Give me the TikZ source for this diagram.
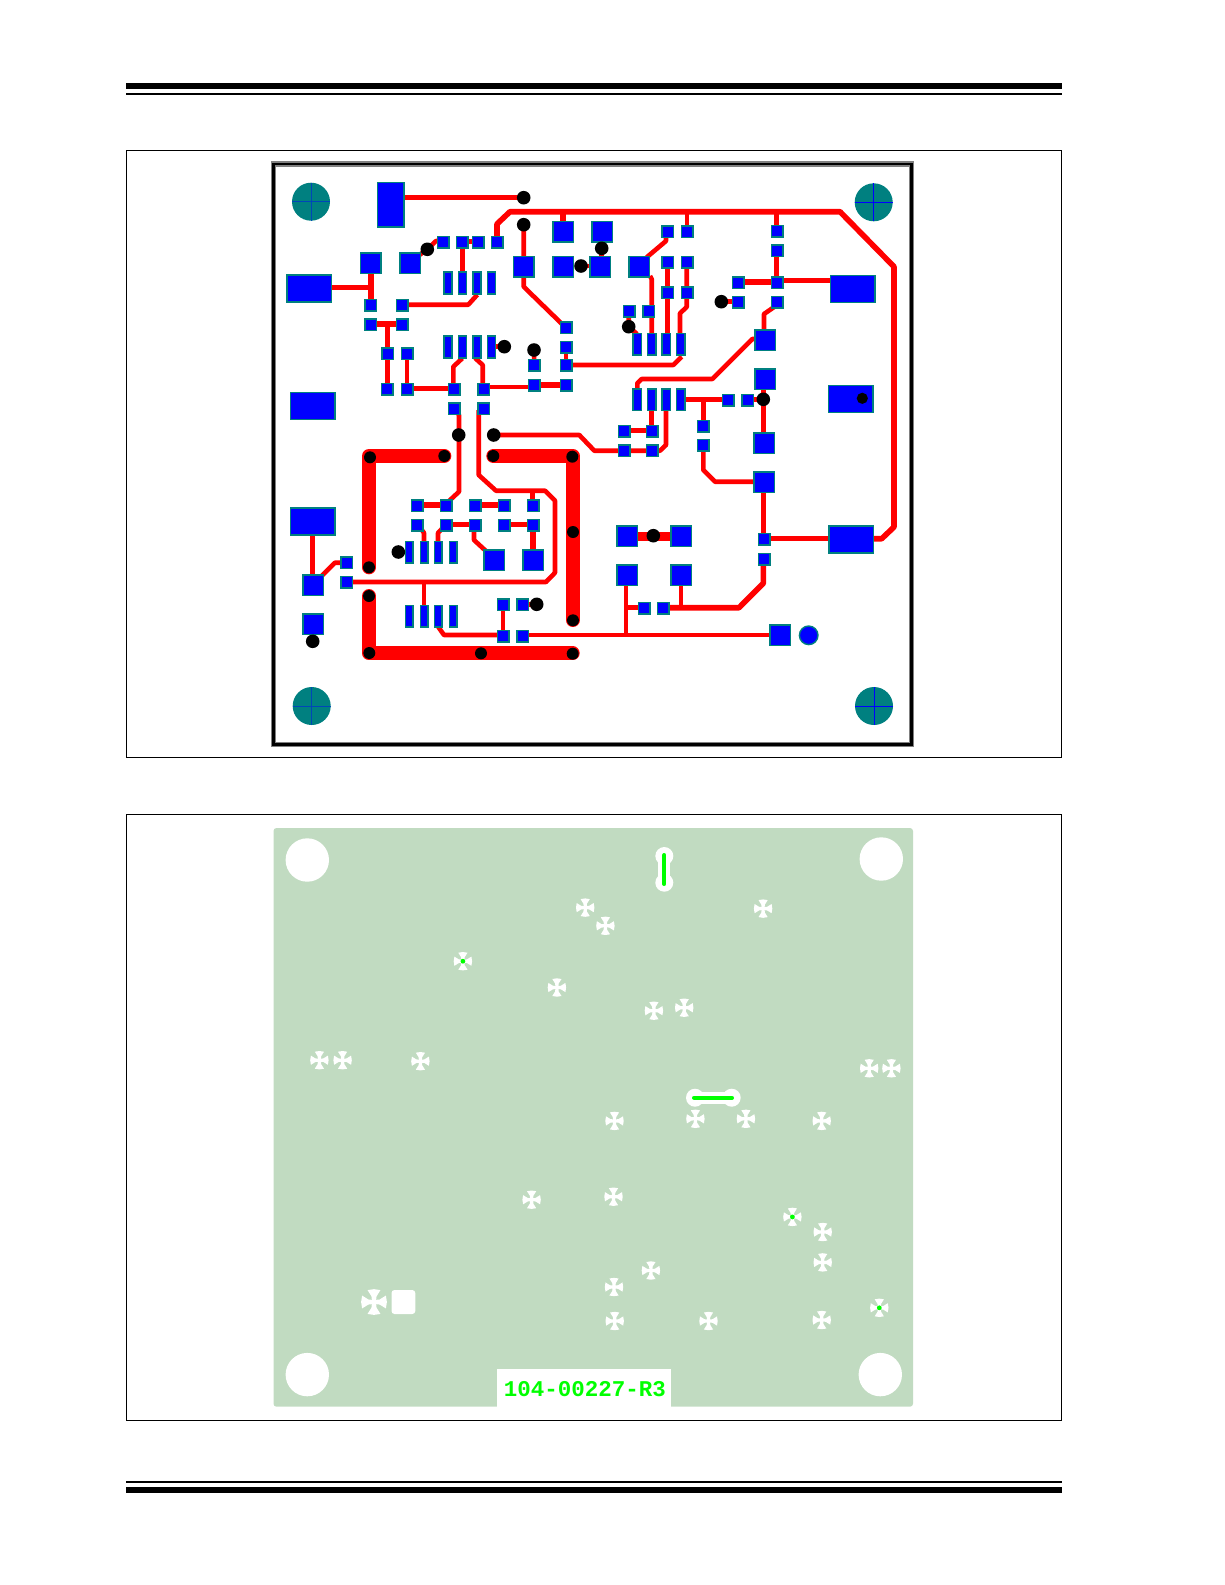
\documentclass[tikz,border=0pt]{standalone}
\usepackage{fontspec}
\newfontfamily\silkfont{Liberation Mono}
\definecolor{padteal}{rgb}{0,0.5,0.5}
\definecolor{boardgreen}{rgb}{0.755,0.86,0.755}
\tikzset{
  trace/.style={red,line width=2.3pt,line join=round},
  widetrace/.style={red,line width=2.8pt,line join=round},
  powertrace/.style={red,line width=7pt,line join=round,line cap=round},
  pad/.style={fill=blue,draw=padteal,line width=0.7pt},
  via/.style={fill=black},
  slot/.style={white,line width=6pt,line cap=round},
  plated/.style={green,line width=2pt,line cap=round},
  thermal/.pic={
    \foreach \a in {0,90,180,270} {
      \fill[white,rotate=\a] (1,-1.5) -- (4,-1.8) -- (8.5,-4.6) -- (9.2,0) -- (8.5,4.6) -- (4,1.8) -- (1,1.5) -- cycle;
    }
    \fill[white] (0,0) circle (2);
  }
}
\begin{document}
\begin{tikzpicture}[x=0.5pt,y=-0.5pt]
  \useasboundingbox (0,0) rectangle (1225,1585);
  % page rules
  \fill[black] (126,83) rectangle (1062,89);
  \fill[black] (126,93) rectangle (1062,95);
  \fill[black] (126,1481) rectangle (1062,1483);
  \fill[black] (126,1487) rectangle (1062,1493);
  % panels
  \draw[black,line width=0.75pt] (126.5,150.5) rectangle (1061.5,757.5);
  \draw[black,line width=0.75pt] (126.5,814.5) rectangle (1061.5,1420.5);
  % board outline
  \draw[gray,line width=2.7pt] (273.5,164) rectangle (911.5,744.5);
  \draw[black,line width=1.2pt] (273.5,164) rectangle (911.5,744.5);
  % mounting holes
  \foreach \x/\y in {311/201.7,311.7/706} {
    \fill[padteal] (\x,\y) circle (19);
    \draw[blue!45!padteal,line width=0.4pt] (\x-19,\y) -- (\x+19,\y) (\x,\y-19) -- (\x,\y+19);
  }
  \foreach \x/\y in {873.7/202.3,874/706} {
    \fill[padteal] (\x,\y) circle (19);
    \draw[blue,line width=0.5pt] (\x-19,\y) -- (\x+19,\y) (\x,\y-19) -- (\x,\y+19);
  }
  % power traces
  \draw[powertrace] (444.3,456) -- (369,456) -- (369,567.3);
  \draw[powertrace] (493.3,456) -- (572.7,456) -- (572.7,620);
  \draw[powertrace] (369,596) -- (369,653.3) -- (572.7,653.3);
  \draw[red,line width=4.5pt] (627,536) -- (681,536);
  % signal traces, upper left
  \draw[trace] (404,197.7) -- (523.7,197.7);
  \draw[widetrace] (497,236) -- (497,224) -- (510,211.7) -- (840,211.7) -- (894,266.7) -- (894,527) -- (881.7,538.7) -- (874,538.7);
  \draw[trace] (523.7,224.7) -- (523.7,266.7) -- (523.7,286.7) -- (563,325);
  \draw[widetrace] (563,212) -- (563,231.7);
  \draw[widetrace] (370.7,263.3) -- (370.7,305.3);
  \draw[trace] (332,287.7) -- (370.7,287.7);
  \draw[trace] (402,304.7) -- (468.3,304.7) -- (477.3,294.7);
  \draw[widetrace] (370.7,324) -- (402,324);
  \draw[widetrace] (387.3,324) -- (387.3,389);
  \draw[trace] (407,353.7) -- (407,389);
  \draw[trace] (407,388.7) -- (454.3,388.7);
  \draw[trace] (462.3,242.3) -- (462.3,283);
  \draw[trace] (462.3,241.7) -- (478,241.7);
  \draw[trace] (418,256) -- (427.3,249.3) -- (436,241) -- (443,241);
  \draw[trace] (462.3,358.3) -- (453.3,366.7) -- (453.3,389);
  \draw[trace] (475,358) -- (482.7,365) -- (482.7,389);
  \draw[trace] (483.7,387) -- (534.3,387);
  \draw[widetrace] (534.3,385) -- (566,385);
  \draw[trace] (566,347.3) -- (566,365.3);
  \draw[trace] (566,365) -- (673.3,365) -- (681.7,356.7);
  \draw[trace] (491,346.7) -- (504,346.7);
  \draw[trace] (534,350) -- (534.3,365);
  \draw[trace] (455,409) -- (459,415) -- (459,491.7) -- (448.3,501.7);
  \draw[trace] (478.7,410) -- (478.7,475) -- (496,490.7) -- (545,490.7) -- (555,500.7) -- (555,572.7) -- (546,582) -- (351.7,582);
  \draw[trace] (493.7,435) -- (579.3,435) -- (594.3,450.7) -- (660,450.7) -- (666,445) -- (666,400);
  % signal traces, upper right
  \draw[trace] (687,212) -- (687,231.7);
  \draw[trace] (776.7,212) -- (776.7,231.3);
  \draw[trace] (776.7,250.7) -- (776.7,282.7);
  \draw[widetrace] (738.3,282) -- (777,282);
  \draw[trace] (777,280.7) -- (830,280.7);
  \draw[trace] (721.3,301.7) -- (738,301.7);
  \draw[trace] (777,305) -- (764,314) -- (764,340);
  \draw[trace] (666,238) -- (666,241) -- (646.7,257.3);
  \draw[trace] (650,276) -- (651.7,279) -- (651.7,344);
  \draw[trace] (667.3,262) -- (667.3,344);
  \draw[trace] (686.7,262) -- (686.7,307) -- (680,313.3) -- (680,344);
  \draw[trace] (628.7,311) -- (628.7,326.7) -- (637,334);
  \draw[trace] (601.3,248) -- (601.3,265);
  \draw[trace] (581,266) -- (600,266);
  \draw[trace] (637.3,388) -- (637.3,383.3) -- (641.7,379) -- (712.3,379) -- (752.3,339) -- (765,339);
  \draw[widetrace] (680.7,399.3) -- (728,399.3);
  \draw[trace] (703.3,399.3) -- (703.3,426);
  \draw[trace] (747.7,399.3) -- (763.3,399.3);
  \draw[widetrace] (763.3,379) -- (763.3,443.3);
  \draw[trace] (651.3,400) -- (651.3,431.3);
  \draw[trace] (624,430.7) -- (652,430.7);
  % signal traces, lower half
  \draw[trace] (703.3,450) -- (703.3,470) -- (715,481.7) -- (764,481.7);
  \draw[widetrace] (763.3,482) -- (763.3,539);
  \draw[trace] (764,538.7) -- (830,538.7);
  \draw[widetrace] (763.3,559) -- (763.3,583.3) -- (739,607.7) -- (663,607.7);
  \draw[trace] (681,575) -- (681,607.7);
  \draw[trace] (626,575) -- (626,635.3);
  \draw[trace] (626,607.3) -- (644,607.3);
  \draw[trace] (528.3,635) -- (780,635);
  \draw[widetrace] (417,505) -- (446,505);
  \draw[widetrace] (475,505) -- (504,505);
  \draw[trace] (532.7,490.7) -- (532.7,505.7);
  \draw[trace] (446,524.7) -- (475,524.7);
  \draw[trace] (504,524.7) -- (533,524.7);
  \draw[widetrace] (532.7,525) -- (532.7,560);
  \draw[trace] (474,525) -- (474,540) -- (487,552);
  \draw[trace] (421.3,529) -- (424,533) -- (424,552);
  \draw[trace] (441.7,529) -- (438,533) -- (438,552);
  \draw[trace] (398.3,552) -- (409,552);
  \draw[trace] (312.7,535) -- (312.7,585);
  \draw[trace] (321.7,576) -- (335,562.7) -- (346.7,562.7);
  \draw[trace] (424,582) -- (424,616);
  \draw[trace] (438.3,627) -- (444,635) -- (503.3,635);
  \draw[trace] (503,604.7) -- (503,636);
  \draw[trace] (522.7,604.7) -- (536.7,604.7);
  \draw[trace] (312.7,630) -- (312.7,641);
  % small pads
  \foreach \x/\y in {443/242.3,462.3/242.3,478/242.3,497.3/242.3,370.7/305.3,402/305.3,370.7/324.7,402/324.7,
    387.7/353.7,407.3/353.7,387.3/389,407.3/389,454.3/389,483.7/389,454.3/408.7,483.7/408.7,534.3/365.3,534.3/385,
    566/327.7,566/347.3,566/365.3,566/385,667.7/231.7,687.3/231.7,667.7/262,687.3/262,667.7/292.7,687.3/292.7,
    629.3/311.3,648.7/311.3,777/231.3,777/250.7,738.3/282.7,777/282.7,738.3/302.3,777/302.3,728/400,747.7/400,
    703.3/426,703.3/445.3,624/431.3,652/431.3,624/450.7,652/450.7,764/539.3,764/559,644/608.3,663.3/608.3,
    417/505.7,446/505.7,475/505.7,504/505.7,533/505.7,417/525.3,446/525.3,475/525.3,504/525.3,533/525.3,
    346.7/562.7,346.7/582.3,503.3/604.7,522.7/604.7,503.3/636,522.7/636} {
    \draw[pad] (\x-5.8,\y-5.8) rectangle (\x+5.8,\y+5.8);
  }
  % square pads
  \foreach \x/\y in {370.7/263.3,410/263.3,523.7/266.7,563/231.7,563/266.7,602/231.7,600.3/266.7,639.3/266.7,
    765/340,765/379,764/443.3,764/482.3,627/536,681/536,627/575,681/575,780/635.3,494/560,533/560,313/585,313/624} {
    \draw[pad] (\x-10.2,\y-10.2) rectangle (\x+10.2,\y+10.2);
  }
  % ic pins
  \foreach \y in {283,347} {
    \foreach \x in {448,462.3,477,491.3} {
      \draw[pad] (\x-4,\y-11) rectangle (\x+4,\y+11);
    }
  }
  \foreach \y in {344.3,399.7} {
    \foreach \x in {637.3,651.7,666.3,680.7} {
      \draw[pad] (\x-4.4,\y-10.6) rectangle (\x+4.4,\y+10.6);
    }
  }
  \foreach \y in {552.3,616.3} {
    \foreach \x in {409.3,424,438.3,453.3} {
      \draw[pad] (\x-3.8,\y-10.6) rectangle (\x+3.8,\y+10.6);
    }
  }
  % large pads
  \foreach \x/\y in {309.3/288.3,312.7/406,312.7/521.3,852.7/289,850.7/399,851.3/539.3} {
    \draw[pad] (\x-22.3,\y-13.5) rectangle (\x+22.3,\y+13.5);
  }
  \draw[pad] (377.2,182.2) rectangle (404,227);
  \draw[pad] (808.7,635.3) circle (9.3);
  % vias
  \foreach \x/\y in {523.7/197.7,523.7/224.7,427.3/249.3,581/266,601.7/248.3,504.3/346.7,534/350,458.7/435,493.7/435,
    628.7/326.7,721.3/301.7,763.3/399.3,653.3/535.7,398.3/552,536.7/604.3,312.7/641.3} {
    \fill[via] (\x,\y) circle (6.8);
  }
  \foreach \x/\y in {370/457.3,444.3/456,369/567.3,493.3/456,572.3/456.7,573/532,573/620.3,369/596,369.3/653,481/653.3,572.7/653.7} {
    \fill[via] (\x,\y) circle (6);
  }
  \fill[via] (862.3,398.3) circle (5.6);
  % ground plane
  \fill[boardgreen,rounded corners=1.5pt] (273.5,828) rectangle (913,1406.7);
  \foreach \x/\y in {307.3/860,881.3/859,307.3/1374.6,880.3/1374.6} {
    \fill[white] (\x,\y) circle (21.7);
  }
  % slots in the plane
  \draw[slot] (664.3,856) -- (664.3,882.7);
  \fill[white] (664.3,856) circle (9) (664.3,882.7) circle (9);
  \draw[plated] (664.3,855) -- (664.3,884);
  \draw[slot] (695,1097.7) -- (731.7,1097.7);
  \fill[white] (695,1097.7) circle (9) (731.7,1097.7) circle (9);
  \draw[plated] (694,1097.7) -- (732,1097.7);
  % thermals
  \foreach \x/\y in {585.2/907.6,605.4/925.8,763.1/908.6,556.9/987.5,653.9/1010.7,684.2/1007.7,319.4/1060.2,342.6/1060.2,
    420.4/1061.2,869.2/1068.3,891.4/1068.3,614.5/1120.9,695.4/1118.8,745.9/1118.8,821.7/1120.9,531.6/1199.7,613.5/1196.7,
    822.7/1232,822.7/1262.4,650.9/1270.5,614/1287,614.7/1321,708.5/1321,821.7/1320} {
    \pic at (\x,\y) {thermal};
  }
  \foreach \x/\y in {462.9/961.2,792.4/1216.9,879.3/1307.8} {
    \pic at (\x,\y) {thermal};
    \fill[green] (\x,\y) circle (2.4);
  }
  \pic[scale=1.4] at (374,1302) {thermal};
  \fill[white,rounded corners=1.5pt] (391.5,1290) rectangle (415.3,1314);
  % part number
  \fill[white] (497,1369) rectangle (671.3,1406.7);
  \node[text=green,inner sep=0pt,font=\silkfont\bfseries\fontsize{11.25pt}{12pt}\selectfont] (partno) at (585,1389) {104-00227-R3};
\end{tikzpicture}
\end{document}
